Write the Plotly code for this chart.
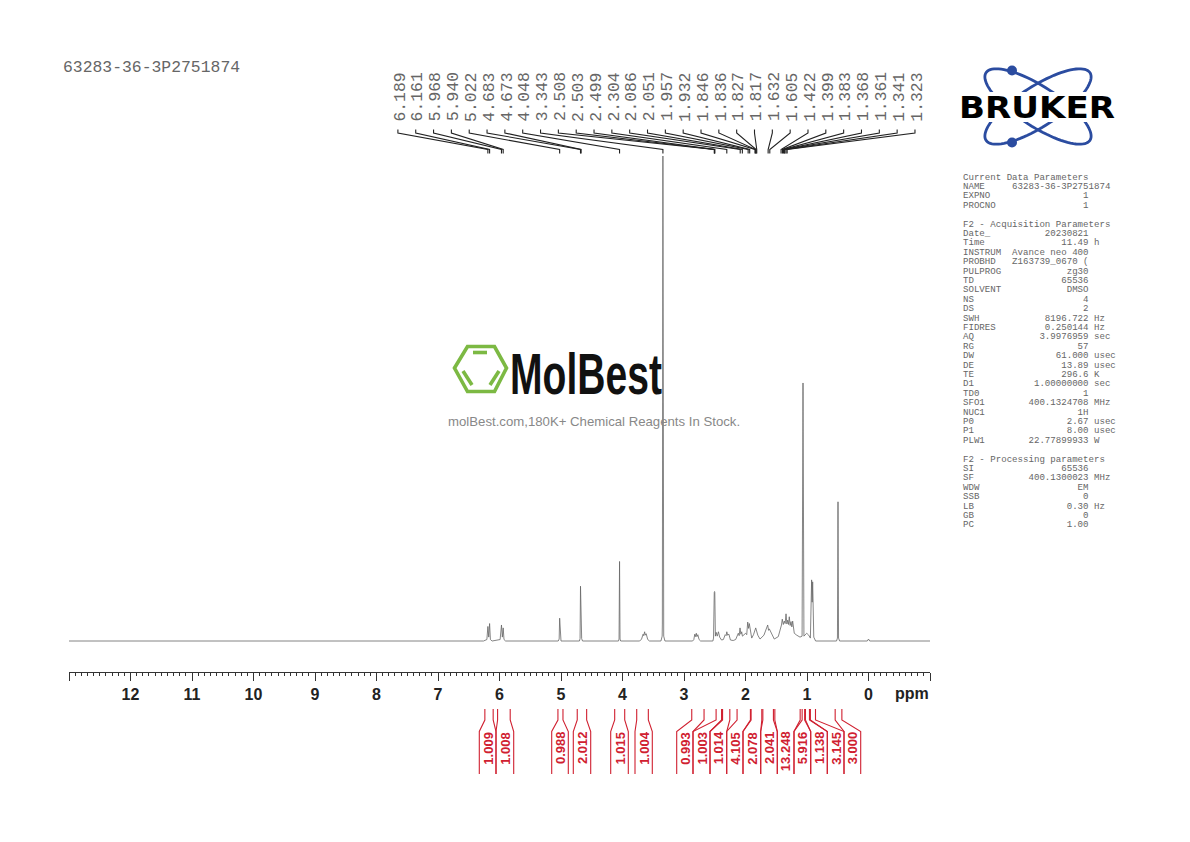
import numpy as np
import plotly.graph_objects as go

# page offset of the plot div inside the browser body
PAD = 8
W = 1190 - 2 * PAD
H = 842 - 2 * PAD

sample_name = "63283-36-3P2751874"

# spectrum outline (ppm, % of tallest peak)
spec_ppm = [13.0, 6.26, 6.205, 6.189, 6.175, 6.161, 6.148, 6.12, 5.99, 5.968, 5.954, 5.94, 5.927, 5.9,
            5.045, 5.03, 5.022, 5.013, 5.0, 4.7, 4.69, 4.683, 4.678, 4.673, 4.664, 4.65, 4.065, 4.056, 4.048, 4.04, 4.03,
            3.72, 3.69, 3.665, 3.655, 3.64, 3.63, 3.615, 3.59, 3.56, 3.375, 3.355, 3.352, 3.343, 3.334, 3.33, 3.31,
            2.86, 2.84, 2.825, 2.815, 2.80, 2.79, 2.775, 2.755, 2.73, 2.53, 2.52, 2.508, 2.503, 2.499, 2.49, 2.478,
            2.46, 2.44, 2.42, 2.39, 2.36, 2.33, 2.315, 2.304, 2.29, 2.27, 2.245, 2.2, 2.16, 2.117, 2.103, 2.089, 2.075, 2.062,
            2.05, 2.036, 1.997, 1.98, 1.964, 1.95, 1.938, 1.899, 1.87, 1.834, 1.80, 1.764, 1.70, 1.639, 1.625, 1.613, 1.532, 1.467, 1.428, 1.415, 1.402,
            1.385, 1.369, 1.355, 1.341, 1.327, 1.314, 1.30, 1.288, 1.274, 1.26, 1.246, 1.233, 1.207, 1.167, 1.114, 1.08, 1.065, 1.05, 1.005, 0.972, 0.945, 0.925,
            0.916, 0.908, 0.89, 0.86, 0.52, 0.505, 0.496, 0.487, 0.47, 0.02, 0.0, -0.02, -1.0]
spec_int = [0.0, 0.0, 0.3, 3.0, 0.8, 3.6, 0.3, 0.0, 0.3, 3.3, 0.8, 2.7, 0.3, 0.0,
            0.0, 0.4, 4.7, 0.4, 0.0, 0.0, 0.5, 11.3, 8.6, 8.8, 0.5, 0.0, 0.0, 0.4, 16.4, 0.4, 0.0,
            0.0, 0.4, 1.4, 1.1, 1.9, 1.2, 1.5, 0.3, 0.0, 0.0, 1.0, 3.5, 100.0, 3.5, 1.0, 0.0,
            0.0, 0.3, 1.4, 0.9, 1.6, 0.9, 1.3, 0.3, 0.0, 0.0, 0.6, 10.0, 10.2, 10.0, 1.0, 1.8,
            1.0, 1.9, 0.8, 0.2, 0.3, 1.3, 1.1, 1.9, 1.2, 1.4, 0.2, 0.1, 0.3, 1.6, 1.1, 2.7, 1.4, 1.9,
            1.0, 1.2, 1.6, 1.3, 3.9, 2.6, 3.6, 0.6, 1.3, 2.7, 1.2, 0.4, 1.2, 3.3, 2.2, 2.5, 0.4, 0.9, 2.7, 3.3, 4.5,
            3.4, 4.1, 3.6, 5.6, 3.5, 4.3, 3.4, 5.0, 3.2, 4.0, 2.9, 4.1, 1.6, 1.2, 0.8, 1.0, 53.2, 1.0, 1.6, 1.2, 0.6, 12.6,
            8.0, 12.2, 0.8, 0.0, 0.0, 0.6, 28.7, 0.6, 0.0, 0.0, 0.4, 0.0, 0.0]

peak_labels = ["6.189", "6.161", "5.968", "5.940", "5.022", "4.683", "4.673", "4.048", "3.343", "2.508",
               "2.503", "2.499", "2.304", "2.086", "2.051", "1.957", "1.932", "1.846", "1.836", "1.827",
               "1.817", "1.632", "1.605", "1.422", "1.399", "1.383", "1.368", "1.361", "1.341", "1.323"]

integral_labels = ["1.009", "1.008", "0.988", "2.012", "1.015", "1.004", "0.993", "1.003", "1.014", "4.105",
                   "2.078", "2.041", "13.248", "5.916", "1.138", "3.145", "3.000"]
integral_start = [6.238, 6.031, 5.05, 4.736, 4.127, 3.769, 2.874, 2.478, 2.373, 2.137,
                  1.909, 1.718, 1.523, 1.079, 1.025, 0.945, 0.542]
integral_stop = [6.103, 5.826, 4.968, 4.583, 3.964, 3.58, 2.674, 2.389, 2.255, 1.92,
                 1.735, 1.546, 1.111, 1.038, 0.96, 0.862, 0.433]
# lower bracket edges in page pixels
integral_low_left = [479.3, 496, 551.7, 573.3, 610.7, 635, 676.7, 693, 710, 726.7,
                     743, 760.7, 777.3, 794, 810.7, 827.3, 844]
integral_low_right = [496, 513.7, 568.3, 590.7, 628.3, 652.3, 693, 710, 726.7, 743,
                      760.7, 777.3, 794, 810.7, 827.3, 844, 860.7]

param_names = ["Current Data Parameters", "NAME", "EXPNO", "PROCNO", "",
               "F2 - Acquisition Parameters", "Date_", "Time", "INSTRUM", "PROBHD", "PULPROG", "TD", "SOLVENT",
               "NS", "DS", "SWH", "FIDRES", "AQ", "RG", "DW", "DE", "TE", "D1", "TD0", "SFO1", "NUC1", "P0", "P1",
               "PLW1", "", "F2 - Processing parameters", "SI", "SF", "WDW", "SSB", "LB", "GB", "PC"]
param_values = ["", sample_name, "1", "1", "",
                "", "20230821", "11.49", "Avance neo 400", "Z163739_0670 (", "zg30", "65536", "DMSO",
                "4", "2", "8196.722", "0.250144", "3.9976959", "57", "61.000", "13.89", "296.6", "1.00000000", "1",
                "400.1324708", "1H", "2.67", "8.00",
                "22.77899933", "", "", "65536", "400.1300023", "EM", "0", "0.30", "0", "1.00"]
param_units = ["", "", "", "", "",
               "", "", "h", "", "", "", "", "",
               "", "", "Hz", "Hz", "sec", "", "usec", "usec", "K", "sec", "",
               "MHz", "", "usec", "usec",
               "W", "", "", "", "MHz", "", "", "Hz", "", ""]

tick_vals = [13, 12, 11, 10, 9, 8, 7, 6, 5, 4, 3, 2, 1, 0, -1]
tick_text = ["", "12", "11", "10", "9", "8", "7", "6", "5", "4", "3", "2", "1", "0", ""]

MONO = "Liberation Mono"
SANS = "Liberation Sans"
RED = "#d02030"
BLUE = "#2b4ca0"


def px_x(x):
    return (x - PAD) / W


def px_y(y):
    return 1 - (y - PAD) / H


def px_to_ppm(x):
    # same mapping as the x axis: 13 ppm at 69 px, -1 ppm at 930 px
    return 13 - (x - 69) / 61.5


fig = go.Figure()

fig.add_trace(go.Scatter(x=spec_ppm, y=spec_int, mode="lines", line=dict(color="#666666", width=0.8),
                         hoverinfo="skip", showlegend=False))

# leaders from the peak labels down to the peaks
lead_x, lead_y = [], []
for i, lab in enumerate(peak_labels):
    lx = px_to_ppm(397.9 + i * 17.83)
    pk = float(lab)
    lead_x += [lx, lx, pk, pk, None]
    lead_y += [129.5, 133, 149.5, 153.5, None]
fig.add_trace(go.Scatter(x=lead_x, y=lead_y, yaxis="y2", mode="lines", line=dict(color="#222222", width=1.1),
                         hoverinfo="skip", showlegend=False))

# integral brackets
int_x, int_y = [], []
for a, b, lo, hi in zip(integral_start, integral_stop, integral_low_left, integral_low_right):
    int_x += [a, a, px_to_ppm(lo), px_to_ppm(lo), None, b, b, px_to_ppm(hi), px_to_ppm(hi), None]
    int_y += [709, 720, 731.5, 774, None, 709, 720, 731.5, 774, None]
fig.add_trace(go.Scatter(x=int_x, y=int_y, yaxis="y2", mode="lines", line=dict(color=RED, width=1.1),
                         hoverinfo="skip", showlegend=False))

shapes = []


def page_path(points, closed=False):
    d = "M " + " L ".join(f"{px_x(x):.5f} {px_y(y):.5f}" for x, y in points)
    return d + (" Z" if closed else "")


# Bruker logo: two tilted orbits, then a white band behind the name
t = np.linspace(0, 2 * np.pi, 90)
for ang in (33, -33):
    r = np.radians(ang)
    ex = 1038 + 62 * np.cos(t) * np.cos(r) - 20 * np.sin(t) * np.sin(r)
    ey = 106.5 + 62 * np.cos(t) * np.sin(r) + 20 * np.sin(t) * np.cos(r)
    shapes.append(dict(type="path", xref="paper", yref="paper", path=page_path(zip(ex, ey), True),
                       line=dict(color=BLUE, width=2.8)))
shapes.append(dict(type="rect", xref="paper", yref="paper", x0=px_x(955), x1=px_x(1120), y0=px_y(122), y1=px_y(92),
                   fillcolor="white", line=dict(width=0)))
for cy in (70.5, 142.5):
    shapes.append(dict(type="circle", xref="paper", yref="paper", x0=px_x(1007), x1=px_x(1017),
                       y0=px_y(cy + 5), y1=px_y(cy - 5), fillcolor=BLUE, line=dict(width=0)))

# MolBest hexagon watermark
GREEN = "#7cb943"
hexagon = [(454.5, 368), (467.5, 346.5), (494.5, 346.5), (506.5, 368), (494.5, 391.5), (467.5, 391.5)]
shapes.append(dict(type="path", xref="paper", yref="paper", path=page_path(hexagon, True),
                   line=dict(color=GREEN, width=3.6)))
for seg in ([(473, 352.5), (487, 352.5)], [(463, 371), (472, 385)], [(499, 371), (490, 385)]):
    shapes.append(dict(type="path", xref="paper", yref="paper", path=page_path(seg),
                       line=dict(color=GREEN, width=3.6)))

notes = []


def note(x, y, text, size, color, family=MONO, xanchor="left", yanchor="middle", angle=0, bold=False):
    notes.append(dict(xref="paper", yref="paper", x=px_x(x), y=px_y(y), text=f"<b>{text}</b>" if bold else text,
                      showarrow=False, xanchor=xanchor, yanchor=yanchor, textangle=angle,
                      font=dict(family=family, size=size, color=color),
                      borderpad=0, borderwidth=0))


note(63, 68, sample_name, 16.4, "#666666")

for i, lab in enumerate(peak_labels):
    note(399.6 + i * 17.83, 97, lab, 16.4, "#666666", xanchor="center", angle=-90)

for lab, lo, hi in zip(integral_labels, integral_low_left, integral_low_right):
    note((lo + hi) / 2, 731.5, lab, 13, RED, family=SANS, xanchor="center", yanchor="top", angle=-90, bold=True)

note(912, 693, "ppm", 16, "#222222", family=SANS, xanchor="center", bold=True)

for i, (name, val, unit) in enumerate(zip(param_names, param_values, param_units)):
    if not name:
        continue
    row = name if not val else f"{name:<9}{val:>14}" + (f" {unit}" if unit else "")
    note(963, 177 + i * 9.405, row.replace(" ", "\u00a0"), 9.1, "#666666")

note(959, 107, "BRUKER", 30, "#000000", family="DejaVu Sans", bold=True)
note(510, 373, "MolBest", 58, "#111111", family=SANS, bold=True)
note(594, 421, "molBest.com,180K+ Chemical Reagents In Stock.", 13.2, "#888888", family=SANS, xanchor="center")

axis_px = 672
base_px = 641
scale = (base_px - 156) / 100  # pixels per percent
top_px = 125

fig.update_layout(
    width=W, height=H, margin=dict(l=0, r=0, t=0, b=0, pad=0),
    paper_bgcolor="white", plot_bgcolor="rgba(0,0,0,0)", showlegend=False,
    xaxis=dict(domain=[px_x(69), px_x(930)], range=[13, -1], anchor="y", showgrid=False, zeroline=False,
               showline=True, linecolor="#333333", linewidth=1,
               ticks="outside", ticklen=8, tickwidth=1, tickcolor="#333333",
               tickmode="array", tickvals=tick_vals, ticktext=tick_text,
               tickfont=dict(family=SANS, size=16, color="#222222", weight="bold"),
               minor=dict(ticks="outside", ticklen=3, tickwidth=1, tickcolor="#333333", dtick=0.1, tick0=0,
                          showgrid=False)),
    yaxis=dict(domain=[px_y(axis_px), px_y(top_px)],
               range=[(base_px - axis_px) / scale, (base_px - top_px) / scale],
               visible=False, fixedrange=True),
    yaxis2=dict(domain=[0, 1], range=[PAD + H, PAD], anchor="x", visible=False, fixedrange=True),
    shapes=shapes, annotations=notes,
)

# the two logo words are squeezed/stretched sideways to their drawn widths
logo_js = """
var widths = {"MolBest": 152, "BRUKER": 156};
document.querySelectorAll('.annotation-text').forEach(function (el) {
    var w = widths[el.textContent];
    if (!w) return;
    var b = el.getBBox();
    el.setAttribute('transform', 'translate(' + b.x + ',0) scale(' + (w / b.width) + ',1) translate(' + (-b.x) + ',0)');
});
"""

fig.write_html("out.html", post_script=logo_js)
